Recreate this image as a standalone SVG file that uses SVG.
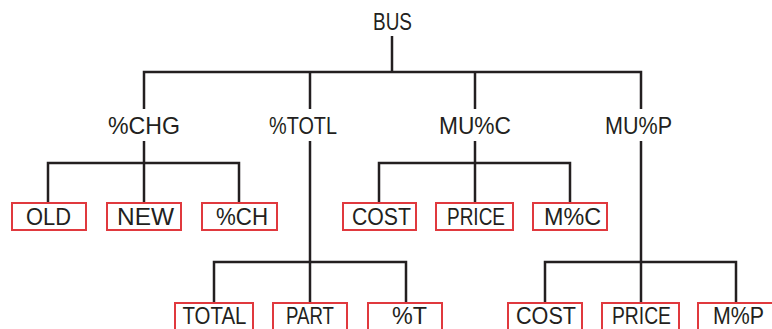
<svg xmlns="http://www.w3.org/2000/svg" width="772" height="329" viewBox="0 0 772 329">
<style>
.bg{fill:#ffffff}
.ln{fill:none;stroke:#231f20;stroke-width:2.5;stroke-linecap:butt;stroke-linejoin:miter}
.bx{fill:none;stroke:#e0393e;stroke-width:2}
text{font-family:"Liberation Sans",Arial,sans-serif;font-size:24px;fill:#231f20;text-anchor:middle}
</style>
<rect class="bg" x="0" y="0" width="772" height="329"/>
<g id="connectors">
<path class="ln" d="M392 36 V72"/>
<path class="ln" d="M144 109 V72 H641 V109"/>
<path class="ln" d="M310 72 V109"/>
<path class="ln" d="M475 72 V109"/>
<path class="ln" d="M144 141 V163"/>
<path class="ln" d="M475 141 V163"/>
<path class="ln" d="M310 141 V262"/>
<path class="ln" d="M641 141 V262"/>
<path class="ln" d="M48 202 V163 H239 V202"/>
<path class="ln" d="M144 163 V202"/>
<path class="ln" d="M379 202 V163 H570 V202"/>
<path class="ln" d="M475 163 V202"/>
<path class="ln" d="M214 302 V262 H406 V302"/>
<path class="ln" d="M310 262 V302"/>
<path class="ln" d="M545 302 V262 H736 V302"/>
<path class="ln" d="M641 262 V302"/>
</g>
<g id="bus"><text x="392.5" y="30" textLength="39" lengthAdjust="spacingAndGlyphs">BUS</text></g>
<g id="pchg"><text x="144" y="134" textLength="72" lengthAdjust="spacingAndGlyphs">%CHG</text></g>
<g id="ptotl"><text x="303" y="134" textLength="68" lengthAdjust="spacingAndGlyphs">%TOTL</text></g>
<g id="muc"><text x="475" y="134" textLength="72" lengthAdjust="spacingAndGlyphs">MU%C</text></g>
<g id="mup"><text x="638.5" y="134" textLength="67" lengthAdjust="spacingAndGlyphs">MU%P</text></g>
<g id="old"><rect class="bx" x="12" y="203" width="74" height="27"/><text x="48.5" y="225" textLength="45" lengthAdjust="spacingAndGlyphs">OLD</text></g>
<g id="new"><rect class="bx" x="107" y="203" width="74" height="27"/><text x="145.5" y="225" textLength="57" lengthAdjust="spacingAndGlyphs">NEW</text></g>
<g id="pch"><rect class="bx" x="202" y="203" width="75" height="27"/><text x="242" y="225" textLength="52" lengthAdjust="spacingAndGlyphs">%CH</text></g>
<g id="cost1"><rect class="bx" x="343" y="203" width="73" height="27"/><text x="381.5" y="225" textLength="59" lengthAdjust="spacingAndGlyphs">COST</text></g>
<g id="price1"><rect class="bx" x="436" y="203" width="77" height="27"/><text x="476" y="225" textLength="58" lengthAdjust="spacingAndGlyphs">PRICE</text></g>
<g id="mpc"><rect class="bx" x="533" y="203" width="74" height="27"/><text x="572.5" y="225" textLength="57" lengthAdjust="spacingAndGlyphs">M%C</text></g>
<g id="total"><rect class="bx" x="175" y="303" width="78" height="30"/><text x="214.5" y="324" textLength="64" lengthAdjust="spacingAndGlyphs">TOTAL</text></g>
<g id="part"><rect class="bx" x="273" y="303" width="74" height="30"/><text x="310" y="324" textLength="48" lengthAdjust="spacingAndGlyphs">PART</text></g>
<g id="pt"><rect class="bx" x="368" y="303" width="74" height="30"/><text x="409.5" y="324" textLength="35" lengthAdjust="spacingAndGlyphs">%T</text></g>
<g id="cost2"><rect class="bx" x="508" y="303" width="74" height="30"/><text x="546" y="324" textLength="60" lengthAdjust="spacingAndGlyphs">COST</text></g>
<g id="price2"><rect class="bx" x="602" y="303" width="77" height="30"/><text x="641.5" y="324" textLength="59" lengthAdjust="spacingAndGlyphs">PRICE</text></g>
<g id="mpp"><rect class="bx" x="698" y="303" width="76" height="30"/><text x="738.5" y="324" textLength="51" lengthAdjust="spacingAndGlyphs">M%P</text></g>
</svg>
